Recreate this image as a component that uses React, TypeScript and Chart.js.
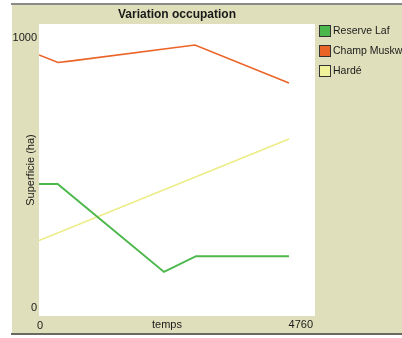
import React, { useEffect, useRef } from "react";
import { Chart, registerables } from "chart.js";

Chart.register(...registerables);

const chartTitle = "Variation occupation";
const xTitle = "temps";
const yTitle = "Superficie (ha)";
const seriesNames = ["Reserve Laf", "Champ Muskwa", "Hardé"];
const seriesColors = ["#4cb84c", "#ea6428", "#f2f29a"];

const xRange = [0, 4760];
const yRange = [0, 1000];

const reserveT = [0, 322, 2156, 2708, 4311];
const reserveV = [452, 452, 151, 205, 205];
const champT = [0, 328, 535, 2690, 4311];
const champV = [894, 868, 873, 928, 798];
const hardeT = [0, 4311];
const hardeV = [258, 606];

const toPoints = (t: number[], v: number[]) => t.map((x, i) => ({ x, y: v[i] }));

const FONT = "'Liberation Sans', 'DejaVu Sans', sans-serif";

const panelPlugin = {
  id: "panel",
  beforeDraw(chart: any) {
    const { ctx, chartArea } = chart;
    ctx.save();
    ctx.fillStyle = "#ffffff";
    ctx.fillRect(0, 0, chart.width, chart.height);
    ctx.fillStyle = "#dfdfbb";
    ctx.fillRect(12, 5, 390, 328);
    ctx.fillStyle = "#8a8a8a";
    ctx.fillRect(11, 3, 391, 2);
    ctx.fillStyle = "#6a6a62";
    ctx.fillRect(11, 333, 391, 2);
    ctx.fillStyle = "#ffffff";
    ctx.fillRect(chartArea.left, chartArea.top, chartArea.right - chartArea.left, chartArea.bottom - chartArea.top);
    ctx.restore();
  },
  afterDraw(chart: any) {
    const { ctx, chartArea, scales } = chart;
    const xs = scales.x;
    const ys = scales.y;
    ctx.save();
    ctx.fillStyle = "#1a1a1a";
    // title
    ctx.font = `bold 12px ${FONT}`;
    ctx.textAlign = "center";
    ctx.textBaseline = "middle";
    ctx.fillText(chartTitle, (chartArea.left + chartArea.right) / 2, 15);

    ctx.font = `11px ${FONT}`;
    // y ticks
    ctx.textAlign = "right";
    ctx.fillText(String(yRange[1]), 37, ys.getPixelForValue(yRange[1]) + 14);
    ctx.fillText(String(yRange[0]), 37, ys.getPixelForValue(yRange[0]) - 8);
    // x ticks
    ctx.textAlign = "center";
    ctx.fillText(String(xRange[0]), xs.getPixelForValue(xRange[0]) + 1, 326);
    ctx.textAlign = "right";
    ctx.fillText(String(xRange[1]), xs.getPixelForValue(xRange[1]) - 2, 325);
    // x title
    ctx.textAlign = "center";
    ctx.fillText(xTitle, 167, 325);
    // y title
    ctx.save();
    ctx.translate(31, (chartArea.top + chartArea.bottom) / 2);
    ctx.rotate(-Math.PI / 2);
    ctx.textAlign = "center";
    ctx.fillText(yTitle, 0, 0);
    ctx.restore();

    // legend
    ctx.font = `10.5px ${FONT}`;
    seriesNames.forEach((name, i) => {
      const y = 25 + i * 20;
      ctx.fillStyle = seriesColors[i];
      ctx.fillRect(319, y, 12, 12);
      ctx.strokeStyle = "#333333";
      ctx.lineWidth = 1;
      ctx.strokeRect(319.5, y + 0.5, 11, 11);
      ctx.fillStyle = "#1a1a1a";
      ctx.textAlign = "left";
      ctx.textBaseline = "middle";
      ctx.fillText(name, 333, y + 6.5);
    });
    ctx.restore();
  },
};

export default function App() {
  const canvasRef = useRef<HTMLCanvasElement | null>(null);

  useEffect(() => {
    if (!canvasRef.current) return;
    const chart = new Chart(canvasRef.current, {
      type: "line",
      data: {
        datasets: [
          {
            label: seriesNames[0],
            data: toPoints(reserveT, reserveV),
            borderColor: seriesColors[0],
            borderWidth: 2,
            pointRadius: 0,
            tension: 0,
          },
          {
            label: seriesNames[1],
            data: toPoints(champT, champV),
            borderColor: seriesColors[1],
            borderWidth: 1.6,
            pointRadius: 0,
            tension: 0,
          },
          {
            label: seriesNames[2],
            data: toPoints(hardeT, hardeV),
            borderColor: "#ecec84",
            borderWidth: 1.5,
            pointRadius: 0,
            tension: 0,
          },
        ],
      },
      options: {
        animation: false,
        responsive: false,
        devicePixelRatio: 1,
        layout: { padding: { left: 39, right: 87, top: 24, bottom: 22 } },
        scales: {
          x: { type: "linear", min: xRange[0], max: xRange[1], display: false },
          y: { type: "linear", min: yRange[0], max: yRange[1], display: false },
        },
        plugins: {
          legend: { display: false },
          tooltip: { enabled: false },
          title: { display: false },
        },
      },
      plugins: [panelPlugin],
    });
    return () => chart.destroy();
  }, []);

  return (
    <div style={{ position: "absolute", left: 0, top: 0, width: 402, height: 338, background: "#fff" }}>
      <canvas ref={canvasRef} width={402} height={338} style={{ width: 402, height: 338, display: "block" }} />
    </div>
  );
}
